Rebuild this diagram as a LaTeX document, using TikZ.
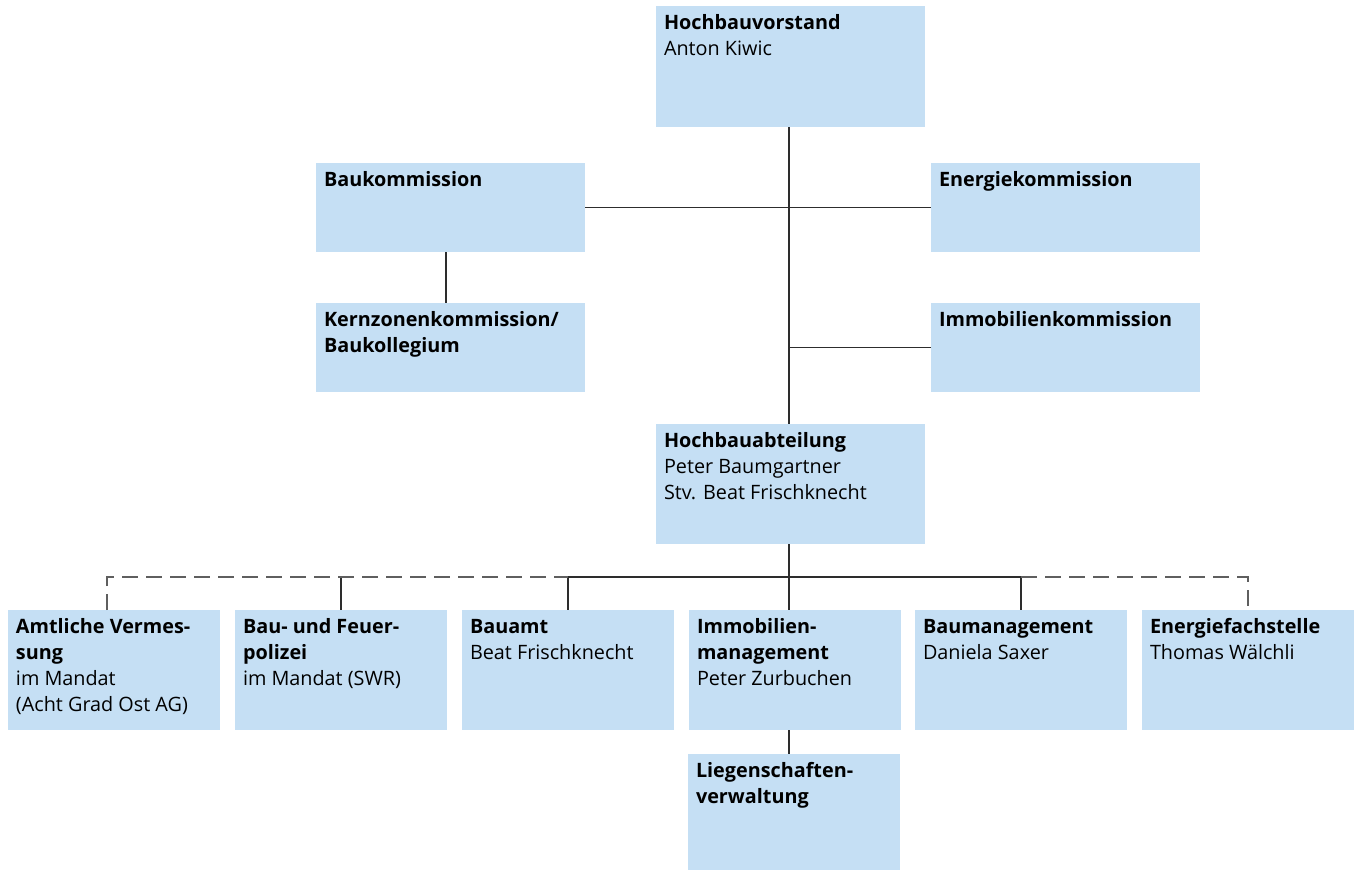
\documentclass[tikz,border=0pt]{standalone}
\usepackage{fontspec}
\setmainfont{Open Sans}
\definecolor{boxblue}{RGB}{197,223,244}
\definecolor{linegray}{RGB}{45,45,45}
\definecolor{dashgray}{RGB}{95,95,95}
\newcommand\orgtext[3]{\parbox[t][#2][t]{#1}{\fontsize{19.8pt}{26pt}\selectfont\raggedright\rule{0pt}{23pt}#3}}
\tikzset{
  orgbox/.style={fill=boxblue, inner xsep=8pt, inner ysep=0pt, outer sep=0pt, anchor=north west, text=black},
  conn/.style={draw=linegray, line width=1.1pt},
  dconn/.style={draw=dashgray, line width=1.1pt, dash pattern=on 16pt off 8pt},
}
\begin{document}
\begin{tikzpicture}[x=1pt,y=-1pt]
\useasboundingbox (0,0) rectangle (1357,871);
% boxes
\node[orgbox] (vorstand) at (656,6) {\orgtext{253pt}{121pt}{\textbf{Hochbauvorstand}\\Anton Kiwic}};
\node[orgbox] (baukom) at (316,163) {\orgtext{253pt}{89pt}{\textbf{Baukommission}}};
\node[orgbox] (energiekom) at (931,163) {\orgtext{253pt}{89pt}{\textbf{Energiekommission}}};
\node[orgbox] (kernzonen) at (316,303) {\orgtext{253pt}{89pt}{\textbf{Kernzonenkommission/}\\\textbf{Baukollegium}}};
\node[orgbox] (immokom) at (931,303) {\orgtext{253pt}{89pt}{\textbf{Immobilienkommission}}};
\node[orgbox] (abteilung) at (656,424) {\orgtext{253pt}{120pt}{\textbf{Hochbauabteilung}\\Peter Baumgartner\\Stv. Beat Frischknecht}};
\node[orgbox] (vermessung) at (8,610) {\orgtext{196pt}{120pt}{\textbf{Amtliche Vermes-}\\\textbf{sung}\\im Mandat\\(Acht Grad Ost AG)}};
\node[orgbox] (polizei) at (235,610) {\orgtext{196pt}{120pt}{\textbf{Bau- und Feuer-}\\\textbf{polizei}\\im Mandat (SWR)}};
\node[orgbox] (bauamt) at (462,610) {\orgtext{196pt}{120pt}{\textbf{Bauamt}\\Beat Frischknecht}};
\node[orgbox] (immo) at (689,610) {\orgtext{196pt}{120pt}{\textbf{Immobilien-}\\\textbf{management}\\Peter Zurbuchen}};
\node[orgbox] (baumgmt) at (915,610) {\orgtext{196pt}{120pt}{\textbf{Baumanagement}\\Daniela Saxer}};
\node[orgbox] (energie) at (1142,610) {\orgtext{196pt}{120pt}{\textbf{Energiefachstelle}\\Thomas Wälchli}};
\node[orgbox] (liegen) at (688,754) {\orgtext{196pt}{116pt}{\textbf{Liegenschaften-}\\\textbf{verwaltung}}};
% helper coordinates
\coordinate (trunk) at (789,577);
\coordinate (vleft) at (107,577);
% connectors
\draw[conn] (vorstand.south -| trunk) -- (abteilung.north -| trunk);
\draw[conn] (baukom.east) -- (energiekom.west);
\draw[conn] (immokom.west) -- (immokom.west -| trunk);
\draw[conn] ([xshift=-4.5pt]baukom.south) -- ([xshift=-4.5pt]kernzonen.north);
\draw[conn] (abteilung.south -| trunk) -- (immo.north -| trunk);
\draw[conn] (bauamt.north |- trunk) -- (baumgmt.north |- trunk);
\draw[conn] (polizei.north |- trunk) -- (polizei.north);
\draw[conn] (bauamt.north |- trunk) -- (bauamt.north);
\draw[conn] (baumgmt.north |- trunk) -- (baumgmt.north);
\draw[dconn] (vermessung.north -| vleft) -- (vleft) -- (bauamt.north |- trunk);
\draw[dconn] (baumgmt.north |- trunk) -- (energie.north |- trunk) -- (energie.north);
\draw[conn] (immo.south -| trunk) -- (liegen.north -| trunk);
\end{tikzpicture}
\end{document}
